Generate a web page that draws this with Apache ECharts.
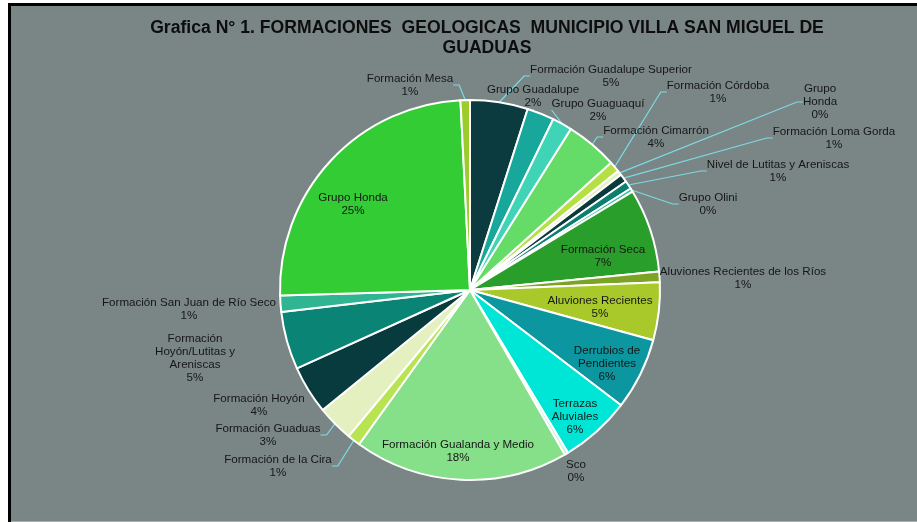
<!DOCTYPE html>
<html><head><meta charset="utf-8">
<script src="https://cdn.jsdelivr.net/npm/echarts@6/dist/echarts.min.js"></script>
<style>html,body{margin:0;padding:0;background:#fff}#c{width:917px;height:522px}</style>
</head><body><div id="c"></div>
<script>
// Data (clockwise from 12 o'clock)
const categories = [
  'Formación Guadalupe Superior', 'Grupo Guadalupe', 'Grupo Guaguaquí', 'Formación Cimarrón',
  'Formación Córdoba', 'Grupo Honda', 'Formación Loma Gorda', 'Nivel de Lutitas y Areniscas',
  'Grupo Olini', 'Formación Seca', 'Aluviones Recientes de los Ríos', 'Aluviones Recientes',
  'Derrubios de Pendientes', 'Terrazas Aluviales', 'Sco', 'Formación Gualanda y Medio',
  'Formación de la Cira', 'Formación Guaduas', 'Formación Hoyón',
  'Formación Hoyón/Lutitas y Areniscas', 'Formación San Juan de Río Seco', 'Grupo Honda',
  'Formación Mesa'
];
const values = [
  4.9, 2.3, 1.7, 4.4,
  0.9, 0.4, 0.7, 0.7,
  0.3, 7.1, 0.9, 4.9,
  6.1, 6.0, 0.3, 18.2,
  1.1, 3.1, 4.1,
  4.9, 1.4, 24.6,
  0.8
];
const labelNames = [
  'Formación Guadalupe Superior', 'Grupo Guadalupe', 'Grupo Guaguaquí', 'Formación Cimarrón',
  'Formación Córdoba', 'Grupo\nHonda', 'Formación Loma Gorda', 'Nivel de Lutitas y Areniscas',
  'Grupo Olini', 'Formación Seca', 'Aluviones Recientes de los Ríos', 'Aluviones Recientes',
  'Derrubios de\nPendientes', 'Terrazas\nAluviales', 'Sco', 'Formación Gualanda y Medio',
  'Formación de la Cira', 'Formación Guaduas', 'Formación Hoyón',
  'Formación\nHoyón/Lutitas y\nAreniscas', 'Formación San Juan de Río Seco', 'Grupo Honda',
  'Formación Mesa'
];

// Styling / layout (not data)
const colors = [
  '#0b3b3e', '#17a89b', '#40d4b6', '#66dc68',
  '#b5e045', '#e6f0c2', '#0a3a3c', '#0c8070',
  '#3cbc9c', '#2a9e2a', '#7ca323', '#a9c92b',
  '#0b96a0', '#00e6d6', '#c8f0e6', '#86e08a',
  '#b8e452', '#e4f0c0', '#073b3d',
  '#0a8474', '#30b592', '#34cc34',
  '#9ccc2c'
];
const labelPos = [
  [611, 76], [533, 96], [598, 110], [656, 137],
  [718, 92], [820, 102], [834, 138], [778, 171],
  [708, 204], [603, 256], [743, 278], [600, 307],
  [607, 364], [575, 417], [576, 471], [458, 451],
  [278, 466], [268, 435], [259, 405],
  [195, 358], [189, 309], [353, 204],
  [410, 85]
];
const hasLine = [1,1,1,1, 1,1,1,1, 1,0,0,0, 0,0,0,0, 1,1,0, 0,0,0, 1];

const total = values.reduce((a, b) => a + b, 0);
const chart = echarts.init(document.getElementById('c'), null, {renderer: 'canvas'});
chart.setOption({
  backgroundColor: '#ffffff',
  animation: false,
  graphic: [
    {type: 'rect', shape: {x: 8, y: 3, width: 909, height: 519}, style: {fill: '#000000'}, z: -10},
    {type: 'rect', shape: {x: 11, y: 6, width: 906, height: 515}, style: {fill: '#7a8685'}, z: -9},
    {type: 'rect', shape: {x: 11, y: 521, width: 906, height: 1}, style: {fill: '#a9b1b0'}, z: -9}
  ],
  title: {
    text: 'Grafica N° 1. FORMACIONES  GEOLOGICAS  MUNICIPIO VILLA SAN MIGUEL DE\nGUADUAS',
    left: 487, top: 18, padding: 0, textAlign: 'center',
    textStyle: {fontFamily: 'Liberation Sans', fontWeight: 'bold', fontSize: 17.6, lineHeight: 20, color: '#0d0d0d'}
  },
  series: [{
    type: 'pie',
    center: [470, 290],
    radius: 190,
    startAngle: 90,
    clockwise: true,
    avoidLabelOverlap: false,
    itemStyle: {borderColor: '#ffffff', borderWidth: 2},
    label: {
      show: true, position: 'outside',
      fontFamily: 'Liberation Sans', fontSize: 11.6, lineHeight: 13, color: '#161616',
      formatter: p => labelNames[p.dataIndex] + '\n' + Math.round(p.value / total * 100) + '%'
    },
    labelLine: {show: true, length: 10, length2: 6, lineStyle: {color: '#7cdae4', width: 1.2}},
    labelLayout: p => {
      const pos = labelPos[p.dataIndex];
      return {x: pos[0], y: pos[1], align: 'center', verticalAlign: 'middle'};
    },
    data: categories.map((n, i) => ({
      name: n, value: values[i],
      itemStyle: {color: colors[i]},
      labelLine: {show: !!hasLine[i]}
    }))
  }]
});
</script></body></html>
